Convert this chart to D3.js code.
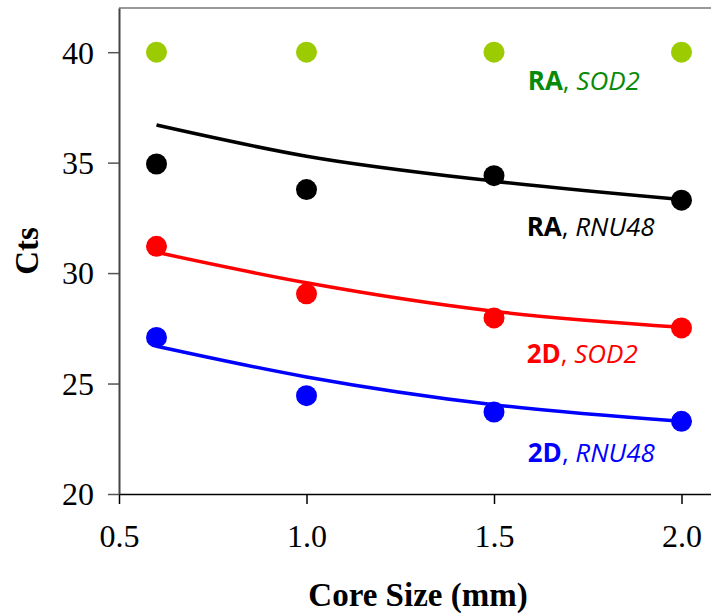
<!DOCTYPE html>
<html>
<head>
<meta charset="utf-8">
<script src="https://cdn.jsdelivr.net/npm/d3@7"></script>
<style>
  body { margin: 0; background: #fff; }
  .axis text { font-family: "Liberation Serif", "Times New Roman", serif; font-size: 32px; fill: #000; }
  .axis-title { font-family: "Liberation Serif", "Times New Roman", serif; font-size: 33px; font-weight: bold; }
  .series-label { font-family: "Open Sans", sans-serif; font-size: 26px; }
</style>
</head>
<body>
<svg id="chart"></svg>
<script>
const coreSizes = [0.6, 1.0, 1.5, 2.0];
const xTicks = [0.5, 1.0, 1.5, 2.0];
const yTicks = [20, 25, 30, 35, 40];

// measured Ct values
const raSod2 = [40, 40, 40, 40];
const raRnu48 = [34.94, 33.78, 34.41, 33.3];
const d2Sod2 = [31.21, 29.06, 27.97, 27.52];
const d2Rnu48 = [27.09, 24.45, 23.71, 23.29];

// trend lines
const raRnu48Fit = [36.7, 35.29, 34.16, 33.33];
const d2Sod2Fit = [30.94, 29.56, 28.27, 27.55];
const d2Rnu48Fit = [26.69, 25.3, 24.04, 23.29];

const series = [
  { cond: "RA", gene: "SOD2", values: raSod2, fit: null, point: "#9bcb00", text: "#078a07", lx: 1.59, ly: 38.3 },
  { cond: "RA", gene: "RNU48", values: raRnu48, fit: raRnu48Fit, point: "#000000", text: "#000000", lx: 1.587, ly: 31.69 },
  { cond: "2D", gene: "SOD2", values: d2Sod2, fit: d2Sod2Fit, point: "#ff0000", text: "#ff0000", lx: 1.587, ly: 25.95 },
  { cond: "2D", gene: "RNU48", values: d2Rnu48, fit: d2Rnu48Fit, point: "#0000ff", text: "#0000ff", lx: 1.59, ly: 21.47 }
];

const W = 711, H = 613;
const margin = { top: 8, right: -8, bottom: 119, left: 119 };
const width = W - margin.left - margin.right;
const height = H - margin.top - margin.bottom;

const svg = d3.select("#chart")
    .attr("width", W)
    .attr("height", H)
    .append("g")
    .attr("transform", `translate(${margin.left},${margin.top})`);

const xScale = d3.scaleLinear().domain([0.5, 2.1]).range([0, width]);
const yScale = d3.scaleLinear().domain([20, 42]).range([height, 0]);

// top border
svg.append("line")
    .attr("x1", 0).attr("x2", width)
    .attr("y1", 0).attr("y2", 0)
    .attr("stroke", "#999").attr("stroke-width", 2);

const xAxis = svg.append("g")
    .attr("class", "axis")
    .attr("transform", `translate(0,${height})`)
    .call(d3.axisBottom(xScale)
        .tickValues(xTicks)
        .tickFormat(d3.format(".1f"))
        .tickSize(10)
        .tickSizeOuter(0)
        .tickPadding(20));
xAxis.select(".domain").attr("stroke", "#000").attr("stroke-width", 1.5);
xAxis.selectAll(".tick line").attr("stroke", "#000").attr("stroke-width", 1.5);

const yAxis = svg.append("g")
    .attr("class", "axis")
    .call(d3.axisLeft(yScale)
        .tickValues(yTicks)
        .tickFormat(d3.format("d"))
        .tickSize(11)
        .tickSizeOuter(0)
        .tickPadding(14));
yAxis.select(".domain").attr("stroke", "#444").attr("stroke-width", 2);
yAxis.selectAll(".tick line").attr("stroke", "#555").attr("stroke-width", 1.5);
yAxis.selectAll(".tick text").attr("dy", "0.34em");

const line = d3.line()
    .x((d, i) => xScale(coreSizes[i]))
    .y(d => yScale(d))
    .curve(d3.curveMonotoneX);

series.filter(s => s.fit).forEach(s => {
    svg.append("path")
        .datum(s.fit)
        .attr("d", line)
        .attr("fill", "none")
        .attr("stroke", s.point)
        .attr("stroke-width", 3.5);
});

series.forEach(s => {
    svg.append("g").selectAll("circle")
        .data(s.values)
        .join("circle")
        .attr("cx", (d, i) => xScale(coreSizes[i]))
        .attr("cy", d => yScale(d))
        .attr("r", 10.5)
        .attr("fill", s.point);

    const t = svg.append("text")
        .attr("class", "series-label")
        .attr("x", xScale(s.lx))
        .attr("y", yScale(s.ly))
        .attr("fill", s.text);
    t.append("tspan").attr("font-weight", "bold").text(s.cond);
    t.append("tspan").text(", ");
    t.append("tspan").attr("font-style", "italic").text(s.gene);
});

svg.append("text")
    .attr("class", "axis-title")
    .attr("text-anchor", "middle")
    .attr("x", 418 - margin.left)
    .attr("y", height + 112)
    .text("Core Size (mm)");

svg.append("text")
    .attr("class", "axis-title")
    .attr("text-anchor", "middle")
    .attr("transform", `translate(${38 - margin.left},${251 - margin.top}) rotate(-90)`)
    .text("Cts");
</script>
</body>
</html>
